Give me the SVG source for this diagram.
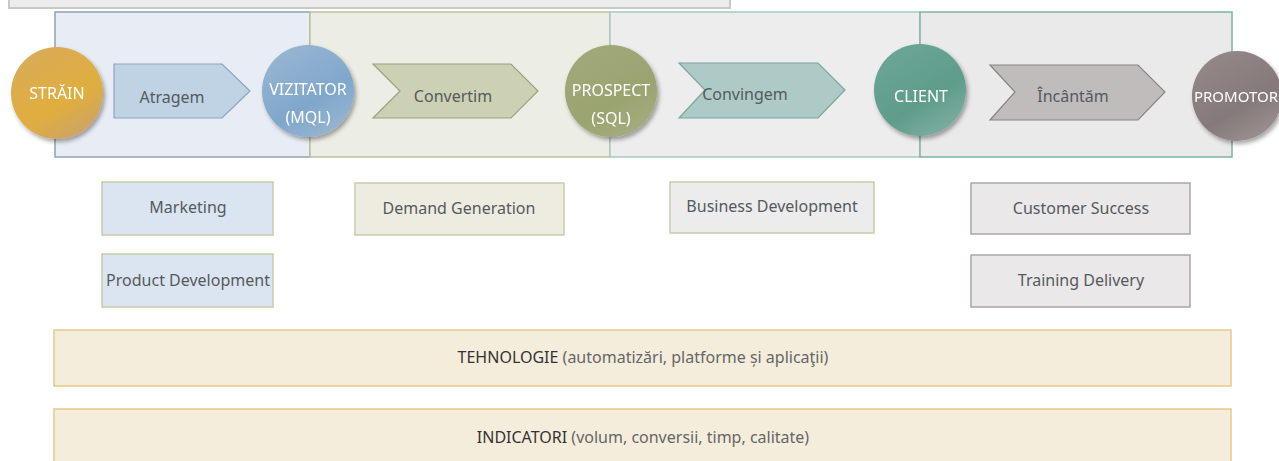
<svg xmlns="http://www.w3.org/2000/svg" width="1279" height="461" viewBox="0 0 1279 461">
<style>
text{font-family:"Noto Sans","Liberation Sans",sans-serif;text-anchor:middle;dominant-baseline:central}
.ct{fill:#ffffff;font-size:16px}
.lbl{fill:#555a5e;font-size:16px}
.box{stroke-width:1.5}
</style>
<defs>
<filter id="sh" x="-30%" y="-30%" width="170%" height="170%">
<feDropShadow dx="2" dy="3" stdDeviation="2.2" flood-color="#000" flood-opacity="0.35"/>
</filter>
<linearGradient id="gGold" x1="0" y1="0" x2="0.6" y2="1">
<stop offset="0" stop-color="#d7ab5c"/><stop offset="0.7" stop-color="#e0ae3e"/><stop offset="1" stop-color="#cfa560"/>
</linearGradient>
<linearGradient id="gBlue" x1="0" y1="0" x2="0.6" y2="1">
<stop offset="0" stop-color="#9cb8d2"/><stop offset="0.7" stop-color="#7fa7cc"/><stop offset="1" stop-color="#93b3d0"/>
</linearGradient>
<linearGradient id="gOlive" x1="0" y1="0" x2="0.6" y2="1">
<stop offset="0" stop-color="#a3a97b"/><stop offset="0.7" stop-color="#9aa470"/><stop offset="1" stop-color="#a4aa7c"/>
</linearGradient>
<linearGradient id="gTeal" x1="0" y1="0" x2="0.6" y2="1">
<stop offset="0" stop-color="#6ca898"/><stop offset="0.7" stop-color="#5f9c8a"/><stop offset="1" stop-color="#78ab9d"/>
</linearGradient>
<linearGradient id="gGray" x1="0" y1="0" x2="0.6" y2="1">
<stop offset="0" stop-color="#968b89"/><stop offset="0.7" stop-color="#85797a"/><stop offset="1" stop-color="#978d8b"/>
</linearGradient>
</defs>
<rect width="1279" height="461" fill="#ffffff"/>
<rect x="9" y="-3" width="721" height="11" fill="#ececec" stroke="#c8c8c8" stroke-width="2"/>

<g id="stages">
<rect x="55" y="12" width="255" height="145" fill="#e8edf5" stroke="#8ea3b7" stroke-width="1.5"/>
<rect x="310" y="12" width="300" height="145" fill="#eceee6" stroke="#bcc49e" stroke-width="1.5"/>
<rect x="610" y="12" width="310" height="145" fill="#ededed" stroke="#a6cac5" stroke-width="1.5"/>
<rect x="920" y="12" width="312" height="145" fill="#ebeaea" stroke="#7db3a6" stroke-width="1.5"/>
</g>

<g id="connectors">
<g id="atragem">
<polygon points="114,64 222,64 250,91 222,118 114,118" fill="#c0d3e4" stroke="#8aa5be" stroke-width="1.2"/>
<text class="lbl" x="172" y="97">Atragem</text>
</g>
<g id="convertim">
<polygon points="373,64 511,64 538,91 511,118 373,118 400,91" fill="#ccd1b4" stroke="#98a27a" stroke-width="1.2"/>
<text class="lbl" x="453" y="96">Convertim</text>
</g>
<g id="convingem">
<polygon points="679,63 818,63 845,90 818,118 679,118 705,90" fill="#aecac6" stroke="#78a6a0" stroke-width="1.2"/>
<text class="lbl" x="745" y="94">Convingem</text>
</g>
<g id="incantam">
<polygon points="990,65 1138,65 1165,92 1138,120 990,120 1015,92" fill="#c0bcbc" stroke="#8a8484" stroke-width="1.2"/>
<text class="lbl" x="1073" y="96" fill="#6a6464">Încântăm</text>
</g>
</g>

<g id="strain" filter="url(#sh)">
<circle cx="57" cy="93" r="46" fill="url(#gGold)"/>
<text class="ct" x="57" y="93">STRĂIN</text>
</g>
<g id="vizitator" filter="url(#sh)">
<circle cx="308" cy="91" r="46" fill="url(#gBlue)"/>
<text class="ct" x="308" y="89">VIZITATOR</text>
<text class="ct" x="308" y="117">(MQL)</text>
</g>
<g id="prospect" filter="url(#sh)">
<circle cx="611" cy="91" r="46" fill="url(#gOlive)"/>
<text class="ct" x="611" y="90">PROSPECT</text>
<text class="ct" x="611" y="118">(SQL)</text>
</g>
<g id="client" filter="url(#sh)">
<circle cx="920" cy="90" r="46" fill="url(#gTeal)"/>
<text class="ct" x="921" y="96">CLIENT</text>
</g>
<g id="promotor" filter="url(#sh)">
<circle cx="1237" cy="96" r="45" fill="url(#gGray)"/>
<text class="ct" x="1236" y="96" style="font-size:15px">PROMOTOR</text>
</g>

<g id="marketing">
<rect class="box" x="102" y="182" width="171" height="53" fill="#dbe5f1" stroke="#c6cca8"/>
<text class="lbl" x="188" y="207">Marketing</text>
</g>
<g id="product-development">
<rect class="box" x="102" y="254" width="171" height="53" fill="#dbe5f1" stroke="#c6cca8"/>
<text class="lbl" x="188" y="280">Product Development</text>
</g>
<g id="demand-generation">
<rect class="box" x="355" y="183" width="209" height="52" fill="#eeece0" stroke="#c9cdaa"/>
<text class="lbl" x="459" y="208">Demand Generation</text>
</g>
<g id="business-development">
<rect class="box" x="670" y="182" width="204" height="51" fill="#ececec" stroke="#c6cea8"/>
<text class="lbl" x="772" y="206" fill="#6e6e6e">Business Development</text>
</g>
<g id="customer-success">
<rect class="box" x="971" y="183" width="219" height="51" fill="#eae8e8" stroke="#aaa6a6"/>
<text class="lbl" x="1081" y="208" fill="#2a2a2a">Customer Success</text>
</g>
<g id="training-delivery">
<rect class="box" x="971" y="255" width="219" height="52" fill="#eae8e8" stroke="#aaa6a6"/>
<text class="lbl" x="1081" y="280" fill="#2a2a2a">Training Delivery</text>
</g>

<g id="tehnologie">
<rect x="54" y="330" width="1177" height="56" fill="#f5eddc" stroke="#e6c98a" stroke-width="1.5"/>
<text class="lbl" x="643" y="357"><tspan fill="#333333">TEHNOLOGIE</tspan> <tspan fill="#666666">(automatizări, platforme și aplicaţii)</tspan></text>
</g>
<g id="indicatori">
<rect x="54" y="409" width="1177" height="60" fill="#f5eddc" stroke="#e6c98a" stroke-width="1.5"/>
<text class="lbl" x="643" y="437"><tspan fill="#333333">INDICATORI</tspan> <tspan fill="#666666">(volum, conversii, timp, calitate)</tspan></text>
</g>
</svg>
